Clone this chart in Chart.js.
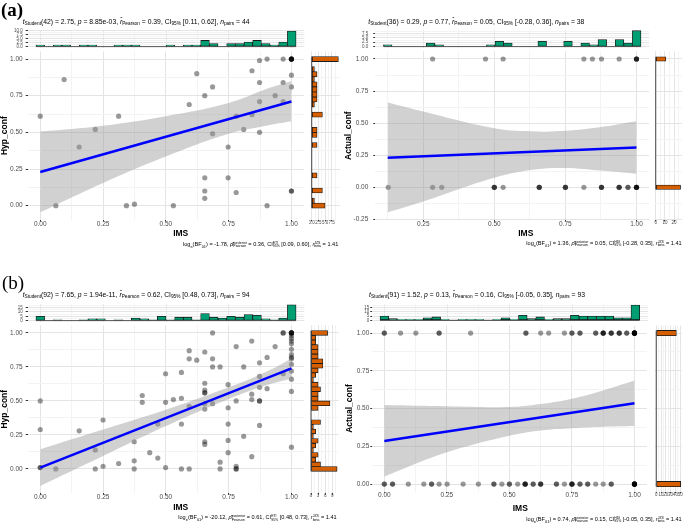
<!DOCTYPE html>
<html>
<head>
<meta charset="utf-8">
<title>IMS vs confidence</title>
<script src="https://cdn.jsdelivr.net/npm/chart.js@4.4.1/dist/chart.umd.min.js"></script>
<style>
    html, body { margin: 0; padding: 0; background: #fff; }
    #figure { position: relative; width: 685px; height: 524px; overflow: hidden;
        font-family: "Liberation Sans", Arial, sans-serif; color: #000; }
    #figure canvas { position: absolute; }
    .txt { position: absolute; white-space: nowrap; line-height: 1; transform: translateY(-50%); z-index: 2; }
    .txt.end { transform: translate(-100%, -50%); }
    .txt.mid { transform: translate(-50%, -50%); }
    .tag { font-family: "Liberation Serif", "Times New Roman", serif; font-size: 19px; }
    .stats { font-size: 6.8px; }
    .stats sub, .bayes sub { font-size: 0.7em; vertical-align: -0.3em; line-height: 0; }
    .bayes { font-size: 5.6px; }
    .stack { display: inline-flex; flex-direction: column; font-size: 0.62em; line-height: 1; vertical-align: middle; }
    .xlab { font-size: 8.5px; font-weight: bold; }
</style>
</head>
<body>
<div id="figure">
    <div class="txt tag" style="left:1px;top:9px;font-weight:bold">(a)</div>
    <div class="txt tag" style="left:2px;top:281.5px">(b)</div>

    <div class="txt stats" style="left:22.7px;top:21.5px"><i>t</i><sub>Student</sub>(42) = 2.75, <i>p</i> = 8.85e-03, <i>r&#770;</i><sub>Pearson</sub> = 0.39, CI<sub>95%</sub> [0.11, 0.62], <i>n</i><sub>pairs</sub> = 44</div>
    <div class="txt stats" style="left:368.3px;top:21.5px"><i>t</i><sub>Student</sub>(36) = 0.29, <i>p</i> = 0.77, <i>r&#770;</i><sub>Pearson</sub> = 0.05, CI<sub>95%</sub> [-0.28, 0.36], <i>n</i><sub>pairs</sub> = 38</div>
    <div class="txt stats" style="left:22.7px;top:295px"><i>t</i><sub>Student</sub>(92) = 7.65, <i>p</i> = 1.94e-11, <i>r&#770;</i><sub>Pearson</sub> = 0.62, CI<sub>95%</sub> [0.48, 0.73], <i>n</i><sub>pairs</sub> = 94</div>
    <div class="txt stats" style="left:369px;top:295px"><i>t</i><sub>Student</sub>(91) = 1.52, <i>p</i> = 0.13, <i>r&#770;</i><sub>Pearson</sub> = 0.16, CI<sub>95%</sub> [-0.05, 0.35], <i>n</i><sub>pairs</sub> = 93</div>

    <div class="txt xlab mid" style="left:180.7px;top:233.3px">IMS</div>
    <div class="txt xlab mid" style="left:525.8px;top:233.3px">IMS</div>
    <div class="txt xlab mid" style="left:180.7px;top:507.3px">IMS</div>
    <div class="txt xlab mid" style="left:520.3px;top:508.3px">IMS</div>

    <div class="txt bayes end" style="left:338.3px;top:244.5px">log<sub>e</sub>(BF<sub>01</sub>) = -1.78, <i>&rho;&#770;</i><span class="stack"><span>posterior</span><span>Pearson</span></span> = 0.36, CI<span class="stack"><span>ETI</span><span>95%</span></span> [0.09, 0.60], <i>r</i><span class="stack"><span>JZS</span><span>beta</span></span> = 1.41</div>
    <div class="txt bayes end" style="left:681.7px;top:244px">log<sub>e</sub>(BF<sub>01</sub>) = 1.36, <i>&rho;&#770;</i><span class="stack"><span>posterior</span><span>Pearson</span></span> = 0.05, CI<span class="stack"><span>HDI</span><span>95%</span></span> [-0.28, 0.35], <i>r</i><span class="stack"><span>JZS</span><span>beta</span></span> = 1.41</div>
    <div class="txt bayes end" style="left:336.7px;top:518.3px">log<sub>e</sub>(BF<sub>01</sub>) = -20.12, <i>&rho;&#770;</i><span class="stack"><span>posterior</span><span>Pearson</span></span> = 0.61, CI<span class="stack"><span>ETI</span><span>95%</span></span> [0.48, 0.73], <i>r</i><span class="stack"><span>JZS</span><span>beta</span></span> = 1.41</div>
    <div class="txt bayes end" style="left:681.7px;top:520px">log<sub>e</sub>(BF<sub>01</sub>) = 0.74, <i>&rho;&#770;</i><span class="stack"><span>posterior</span><span>Pearson</span></span> = 0.15, CI<span class="stack"><span>HDI</span><span>95%</span></span> [-0.05, 0.35], <i>r</i><span class="stack"><span>JZS</span><span>beta</span></span> = 1.41</div>
</div>
<script>
Chart.defaults.font.family = '"Liberation Sans", Arial, sans-serif';

// ---- points ----
const imsA1 = [0.095, 0, 0.062, 0.155, 0.219, 0.312, 0.343, 0.375, 0.53, 0.593, 0.623,
    0.655, 0.655, 0.655, 0.655, 0.686, 0.686, 0.748, 0.748, 0.78, 0.78, 0.81, 0.843, 0.843,
    0.873, 0.873, 0.873, 0.873, 0.903, 0.903, 0.935, 0.967, 0.967, 0.967,
    1, 1, 1, 1, 1, 1, 1, 1, 1, 1];
const hypA1 = [0.86, 0.61, 0, 0.40, 0.52, 0.61, 0, 0.01, 0, 0.69, 0.90,
    0.75, 0.19, 0.10, 0.05, 0.81, 0.49, 0.40, 0.19, 0.09, 0.61, 0.52, 0.92, 0.62,
    0.99, 0.84, 0.71, 0.50, 1.0, 0, 0.75, 1.0, 0.84, 0.71,
    1, 1, 1, 1, 1, 1, 0.89, 0.81, 0.10, 0.10];

// Actual_conf is 0/1, so keep the IMS values of each group
const imsA2Yes = [0.283, 0.469, 0.531, 0.815, 0.845, 0.877, 0.939, 1, 1, 1, 1];
const imsA2No = [0.127, 0.283, 0.315, 0.5, 0.5, 0.5, 0.531, 0.658, 0.658, 0.658,
    0.75, 0.75, 0.75, 0.815, 0.877, 0.877, 0.877, 0.939, 0.939, 0.939, 0.97, 0.97,
    1, 1, 1, 1, 1];

const imsB1 = [0, 0, 0, 0, 0.062, 0.155, 0.219, 0.219, 0.25, 0.25, 0.312, 0.374, 0.374, 0.374,
    0.406, 0.406, 0.436, 0.468, 0.468, 0.499, 0.499, 0.499, 0.53, 0.562, 0.562, 0.562, 0.562,
    0.593, 0.593, 0.593, 0.593, 0.623, 0.655, 0.655, 0.655, 0.655, 0.655, 0.655, 0.655, 0.655, 0.655,
    0.686, 0.686, 0.686, 0.686, 0.716, 0.716, 0.716, 0.748, 0.748, 0.748, 0.748, 0.748,
    0.78, 0.78, 0.78, 0.78, 0.78, 0.81, 0.81, 0.842, 0.842, 0.842, 0.842,
    0.873, 0.873, 0.873, 0.873, 0.873, 0.873, 0.903, 0.903, 0.935, 0.967, 0.967, 0.967,
    1, 1, 1, 1, 1, 1, 1, 1, 1, 1, 1, 1, 1, 1, 1, 1, 1, 1];
const hypB1 = [0.50, 0.29, 0.01, 0.01, 0, 0.28, 0.14, 0, 0.36, 0.02, 0.04, 0.20, 0.06, 0,
    0.54, 0.49, 0.12, 0.08, 0.33, 0.70, 0.49, 0.01, 0.51, 0.71, 0.52, 0.33, 0,
    0.87, 0.81, 0.46, 0, 0.80, 0.86, 0.63, 0.58, 0.56, 0.56, 0.48, 0.44, 0.20, 0.18,
    1.0, 0.81, 0.75, 0.48, 0.75, 0.05, 0, 0.62, 0.45, 0.33, 0.21, 0.12,
    0.90, 0.50, 0.02, 0, 0, 0.75, 0.24, 0.94, 0.55, 0.51, 0.09,
    0.78, 0.68, 0.60, 0.50, 0.50, 0.32, 0.82, 0.59, 0.90, 1.0, 1.0, 0.70,
    1, 1, 1, 1, 1, 0.98, 0.96, 0.94, 0.92, 0.88, 0.84, 0.82, 0.81, 0.77, 0.72, 0.66, 0.57, 0.16];

const imsB2Yes = [0, 0, 0.065, 0.126, 0.219, 0.219, 0.345, 0.566, 0.566, 0.625, 0.657, 0.72,
    0.75, 0.75, 0.782, 0.782, 0.845, 0.845, 0.875, 0.875, 0.875, 0.875, 0.907, 0.907, 0.907,
    0.939, 0.939, 0.939, 0.969, 0.969, 1, 1, 1, 1, 1, 1, 1, 1, 1, 1, 1, 1];
const imsB2No = [0, 0, 0.033, 0.033, 0.096, 0.158, 0.189, 0.189, 0.219, 0.251, 0.315, 0.376,
    0.438, 0.438, 0.47, 0.5, 0.5, 0.533, 0.563, 0.563, 0.563, 0.563, 0.595, 0.595,
    0.625, 0.625, 0.625, 0.688, 0.688, 0.72, 0.75, 0.75, 0.75, 0.75, 0.782, 0.782,
    0.813, 0.813, 0.845, 0.875, 0.907, 0.907, 1, 1, 1, 1, 1, 1, 1, 1, 1];

// ---- fitted lines and their confidence bands ----
const fitA1X = [0, 1], fitA1Y = [0.23, 0.71];
const bandA1X = [0, 0.25, 0.5, 0.75, 0.9, 1];
const bandA1Hi = [0.505, 0.545, 0.61, 0.70, 0.795, 0.85];
const bandA1Lo = [-0.045, 0.155, 0.335, 0.49, 0.545, 0.575];

const fitA2X = [0.125, 1], fitA2Y = [0.23, 0.31];
const bandA2X = [0.125, 0.25, 0.5, 0.65, 0.75, 0.875, 1];
const bandA2Hi = [0.66, 0.59, 0.46, 0.435, 0.44, 0.47, 0.515];
const bandA2Lo = [-0.195, -0.11, 0.075, 0.14, 0.15, 0.13, 0.105];

const fitB1X = [0, 1], fitB1Y = [0.01, 0.74];
const bandB1X = [0, 0.25, 0.5, 0.75, 0.9, 1];
const bandB1Hi = [0.145, 0.29, 0.435, 0.60, 0.715, 0.81];
const bandB1Lo = [-0.125, 0.095, 0.315, 0.515, 0.615, 0.665];

const fitB2X = [0, 1], fitB2Y = [0.285, 0.535];
const bandB2X = [0, 0.25, 0.5, 0.625, 0.75, 0.875, 1];
const bandB2Hi = [0.523, 0.515, 0.51, 0.53, 0.565, 0.62, 0.685];
const bandB2Lo = [0.05, 0.21, 0.32, 0.355, 0.37, 0.38, 0.385];

// ---- marginal histogram counts, 30 bins each ----
const topA1 = [1, 0, 1, 1, 0, 1, 1, 0, 0, 1, 1, 1, 0, 0, 0, 1, 0, 1, 1, 4, 2, 0, 2, 2, 3, 4, 2, 1, 3, 10];
const sideA1 = [5, 1, 0, 4, 0, 0, 2, 0, 0, 0, 0, 0, 2, 0, 2, 2, 0, 0, 4, 0, 1, 2, 2, 2, 2, 1, 2, 1, 0, 10];
const topA2 = [1, 0, 0, 0, 0, 2, 1, 0, 0, 0, 0, 0, 1, 3, 2, 0, 0, 0, 3, 0, 0, 3, 0, 2, 1, 4, 0, 4, 2, 9];
const sideA2 = [27, 0, 0, 0, 0, 0, 0, 0, 0, 0, 0, 0, 0, 0, 0, 0, 0, 0, 0, 0, 0, 0, 0, 0, 0, 0, 0, 0, 0, 11];
const topB1 = [5, 0, 1, 0, 0, 1, 2, 2, 0, 1, 0, 3, 2, 1, 5, 1, 4, 4, 1, 8, 4, 3, 5, 4, 7, 6, 2, 1, 3, 18];
const sideB1 = [11, 4, 2, 3, 1, 2, 3, 1, 2, 1, 4, 0, 0, 3, 8, 3, 3, 4, 3, 1, 2, 3, 5, 5, 3, 3, 3, 2, 2, 7];
const topB2 = [5, 2, 1, 1, 1, 3, 4, 1, 0, 1, 1, 1, 0, 1, 3, 1, 6, 2, 4, 1, 2, 2, 6, 5, 5, 5, 5, 3, 3, 18];
const sideB2 = [51, 0, 0, 0, 0, 0, 0, 0, 0, 0, 0, 0, 0, 0, 0, 0, 0, 0, 0, 0, 0, 0, 0, 0, 0, 0, 0, 0, 0, 42];

// ---- ticks ----
const unitTicks = [0, 0.25, 0.5, 0.75, 1];
const unitLabels = ["0.00", "0.25", "0.50", "0.75", "1.00"];
const unitMinor = [0.125, 0.375, 0.625, 0.875];
const imsA2Ticks = [0.25, 0.5, 0.75, 1];
const imsA2Labels = ["0.25", "0.50", "0.75", "1.00"];
const actA2Ticks = [-0.25, 0, 0.25, 0.5, 0.75, 1];
const actA2Labels = ["-0.25", "0.00", "0.25", "0.50", "0.75", "1.00"];
const actA2Minor = [-0.125, 0.125, 0.375, 0.625, 0.875];
const quarterTicks = [0, 2.5, 5, 7.5];
const quarterLabels = ["0.0", "2.5", "5.0", "7.5"];
const quarterMinor = [1.25, 3.75, 6.25, 8.75];
const fiveTicks = [0, 5, 10, 15];
const fiveLabels = ["0", "5", "10", "15"];
const fiveMinor = [2.5, 7.5, 12.5, 17.5];
const tensA2 = [0, 10, 20], tensA2Labels = ["0", "10", "20"], tensA2Minor = [5, 15, 25];
const threes = [0, 3, 6, 9], threesLabels = ["0", "3", "6", "9"], threesMinor = [1.5, 4.5, 7.5, 10.5];
const tensB2 = [0, 10, 20, 30, 40, 50], tensB2Labels = ["0", "10", "20", "30", "40", "50"];
const tensB2Minor = [5, 15, 25, 35, 45];

// ---- styling ----
const GREEN = "#009E73", ORANGE = "#D55E00", BLUE = "#0000ff";
const POINT = "rgba(0,0,0,0.4)", BAND = "rgba(153,153,153,0.45)", EDGE = "#1a1a1a";
const GRID_MAJOR = "#e4e4e4", GRID_MINOR = "#f3f3f3";
const TICK_TEXT = "#4d4d4d", TICK_MARK = "#333333", NONE = "rgba(0,0,0,0)";

const figure = document.getElementById("figure");

function binCenters(lo, hi, n) {
    const step = (hi - lo) / (n - 1);
    return Array.from({length: n}, (_, i) => lo + i * step);
}

function pairs(xs, ys) {
    return xs.map((x, i) => ({x, y: ys[i]}));
}

// a canvas whose chart area lands on box (page px); pad leaves room for the axes
function mount(box, pad) {
    const left = Math.floor(box.l - pad.l);
    const top = Math.floor(box.t - pad.t);
    const width = Math.ceil(box.r + pad.r) - left;
    const height = Math.ceil(box.b + pad.b) - top;
    const canvas = document.createElement("canvas");
    canvas.width = width;
    canvas.height = height;
    canvas.style.left = `${left}px`;
    canvas.style.top = `${top}px`;
    canvas.style.width = `${width}px`;
    canvas.style.height = `${height}px`;
    figure.appendChild(canvas);
    return {canvas, inset: {l: box.l - left, t: box.t - top, r: left + width - box.r, b: top + height - box.b}};
}

function axis(pos, range, spec) {
    const values = spec.major.concat(spec.minor || []).sort((a, b) => a - b);
    const isMajor = (c) => Boolean(c.tick) && spec.major.includes(c.tick.value);
    const showLabels = Boolean(spec.labels);
    return {
        type: "linear", position: pos, min: range[0], max: range[1], bounds: "data", offset: false,
        afterBuildTicks: (scale) => { scale.ticks = values.map((value) => ({value})); },
        afterFit: (scale) => {
            if (pos === "left") scale.width = spec.fit; else scale.height = spec.fit;
            scale.paddingLeft = scale.paddingRight = scale.paddingTop = scale.paddingBottom = 0;
        },
        ticks: {
            display: showLabels, autoSkip: false, maxRotation: 0, minRotation: 0,
            padding: spec.gap ?? 0, color: TICK_TEXT, font: {size: spec.font || 6.5},
            callback: (value) => {
                const i = spec.major.indexOf(value);
                return i < 0 || !showLabels ? "" : spec.labels[i];
            }
        },
        grid: {
            offset: false, lineWidth: 1,
            color: (c) => (isMajor(c) ? GRID_MAJOR : GRID_MINOR),
            drawTicks: showLabels, tickLength: spec.tick ?? 2,
            tickColor: (c) => (isMajor(c) ? TICK_MARK : NONE)
        },
        border: {display: false},
        title: spec.title
            ? {display: true, text: spec.title, color: "#000", font: {size: 8.5, weight: "bold"},
               padding: {top: spec.titleGap || 0, bottom: 0}}
            : {display: false}
    };
}

function draw(mounted, type, datasets, scales, extra) {
    return new Chart(mounted.canvas, {
        type,
        data: {datasets},
        options: Object.assign({
            responsive: false, animation: false, devicePixelRatio: 1, events: [],
            layout: {padding: {left: 0, top: mounted.inset.t, right: mounted.inset.r, bottom: 0}},
            plugins: {legend: {display: false}, tooltip: {enabled: false}},
            scales
        }, extra || {})
    });
}

function buildPanel(cfg) {
    const xSpec = Object.assign({}, cfg.xTicks);
    const ySpec = Object.assign({}, cfg.yTicks);

    // scatter + fit
    const sc = mount(cfg.scatterBox, {l: cfg.axisWidth, t: 5, r: 3, b: 10});
    draw(sc, "scatter", [
        {data: pairs(cfg.fit[0], cfg.fit[1]), showLine: true, borderColor: BLUE, borderWidth: 2.5,
            pointRadius: 0, order: 0},
        {data: pairs(cfg.band[0], cfg.band[1]), showLine: true, borderColor: NONE, pointRadius: 0,
            tension: 0.4, fill: "+1", backgroundColor: BAND, order: 1},
        {data: pairs(cfg.band[0], cfg.band[2]), showLine: true, borderColor: NONE, pointRadius: 0,
            tension: 0.4, fill: false, order: 2},
        {data: cfg.points, pointRadius: 2.6, pointBorderWidth: 0, pointBackgroundColor: POINT,
            backgroundColor: POINT, order: 3}
    ], {
        x: axis("bottom", cfg.xRange, Object.assign({}, xSpec, {fit: sc.inset.b, tick: 1.5, gap: -1.5})),
        y: axis("left", cfg.yRange, Object.assign({}, ySpec, {fit: sc.inset.l, tick: cfg.yTick, gap: cfg.yGap,
            title: cfg.yTitle, titleGap: cfg.titleGap}))
    });

    // top histogram of IMS
    const top = cfg.top;
    const tHalf = (top.centers[1] - top.centers[0]) / 2;
    const tp = mount(cfg.topBox, {l: cfg.axisWidth, t: 3, r: 3, b: 1});
    draw(tp, "bar", [
        {type: "line", data: [{x: top.centers[0] - tHalf, y: 0}, {x: top.centers[top.centers.length - 1] + tHalf, y: 0}],
            borderColor: EDGE, borderWidth: 0.8, pointRadius: 0, order: 0},
        {data: pairs(top.centers, top.counts), backgroundColor: GREEN, borderColor: EDGE, borderWidth: 0.8,
            borderSkipped: false, barPercentage: 1, categoryPercentage: 1, order: 1}
    ], {
        x: axis("bottom", cfg.xRange, {major: xSpec.major, minor: xSpec.minor, labels: null, fit: tp.inset.b}),
        y: axis("left", top.range, {major: top.major, labels: top.labels, minor: top.minor, font: 4.5,
            fit: tp.inset.l, tick: cfg.yTick, gap: cfg.yGap})
    });

    // side histogram of the confidence score
    const side = cfg.side;
    const sHalf = (side.centers[1] - side.centers[0]) / 2;
    const sd = mount(cfg.sideBox, {l: 1, t: 5, r: 3, b: 10});
    draw(sd, "bar", [
        {type: "line", data: [{x: 0, y: side.centers[0] - sHalf}, {x: 0, y: side.centers[side.centers.length - 1] + sHalf}],
            borderColor: EDGE, borderWidth: 0.8, pointRadius: 0, order: 0},
        {data: side.centers.map((y, i) => ({x: side.counts[i], y})), backgroundColor: ORANGE, borderColor: EDGE,
            borderWidth: 0.8, borderSkipped: false, barPercentage: 1, categoryPercentage: 1, order: 1}
    ], {
        x: axis("bottom", side.range, {major: side.major, labels: side.labels, minor: side.minor, font: 4.5,
            fit: sd.inset.b, tick: 1.5, gap: -1.5}),
        y: axis("left", cfg.yRange, {major: ySpec.major, minor: ySpec.minor, labels: null, fit: sd.inset.l})
    }, {indexAxis: "y"});
}

const unitBins = binCenters(0, 1, 30);
const unitAxis = {major: unitTicks, labels: unitLabels, minor: unitMinor};

buildPanel({
    points: pairs(imsA1, hypA1),
    fit: [fitA1X, fitA1Y], band: [bandA1X, bandA1Hi, bandA1Lo],
    xRange: [-0.05, 1.05], yRange: [-0.097, 1.052],
    xTicks: unitAxis, yTicks: unitAxis,
    yTitle: "Hyp_conf", axisWidth: 27.7, yTick: 2, yGap: 3, titleGap: 0,
    scatterBox: {l: 27.7, t: 51.4, r: 304.3, b: 219.9},
    topBox: {l: 27.7, t: 30.2, r: 304.3, b: 47.5},
    sideBox: {l: 310.4, t: 51.4, r: 339.7, b: 219.9},
    top: {counts: topA1, centers: unitBins, range: [-0.5, 10.5],
        major: quarterTicks.concat([10]), labels: quarterLabels.concat(["10.0"]), minor: quarterMinor},
    side: {counts: sideA1, centers: unitBins, range: [-0.5, 10.5],
        major: quarterTicks, labels: quarterLabels, minor: quarterMinor}
});

buildPanel({
    points: imsA2Yes.map((x) => ({x, y: 1})).concat(imsA2No.map((x) => ({x, y: 0}))),
    fit: [fitA2X, fitA2Y], band: [bandA2X, bandA2Hi, bandA2Lo],
    xRange: [0.081, 1.044], yRange: [-0.255, 1.06],
    xTicks: {major: imsA2Ticks, labels: imsA2Labels, minor: unitMinor},
    yTicks: {major: actA2Ticks, labels: actA2Labels, minor: actA2Minor},
    yTitle: "Actual_conf", axisWidth: 35.2, yTick: 2, yGap: 4.9, titleGap: 3.2,
    scatterBox: {l: 375.2, t: 51.3, r: 649.2, b: 220},
    topBox: {l: 375.2, t: 29.9, r: 649.2, b: 47.5},
    sideBox: {l: 654.5, t: 51.3, r: 681.8, b: 220},
    top: {counts: topA2, centers: binCenters(0.125, 1, 30), range: [-0.45, 9.45],
        major: quarterTicks, labels: quarterLabels, minor: quarterMinor},
    side: {counts: sideA2, centers: unitBins, range: [-1.35, 28.35],
        major: tensA2, labels: tensA2Labels, minor: tensA2Minor}
});

buildPanel({
    points: pairs(imsB1, hypB1),
    fit: [fitB1X, fitB1Y], band: [bandB1X, bandB1Hi, bandB1Lo],
    xRange: [-0.05, 1.05], yRange: [-0.179, 1.057],
    xTicks: unitAxis, yTicks: unitAxis,
    yTitle: "Hyp_conf", axisWidth: 27.7, yTick: 2, yGap: 3, titleGap: 0,
    scatterBox: {l: 27.7, t: 325.2, r: 304.3, b: 493.3},
    topBox: {l: 27.7, t: 304, r: 304.3, b: 321.5},
    sideBox: {l: 309.7, t: 325.2, r: 338.4, b: 493.3},
    top: {counts: topB1, centers: unitBins, range: [-0.9, 18.9],
        major: fiveTicks, labels: fiveLabels, minor: fiveMinor},
    side: {counts: sideB1, centers: unitBins, range: [-0.55, 11.55],
        major: threes, labels: threesLabels, minor: threesMinor}
});

buildPanel({
    points: imsB2Yes.map((x) => ({x, y: 1})).concat(imsB2No.map((x) => ({x, y: 0}))),
    fit: [fitB2X, fitB2Y], band: [bandB2X, bandB2Hi, bandB2Lo],
    xRange: [-0.05, 1.05], yRange: [-0.05, 1.05],
    xTicks: unitAxis, yTicks: unitAxis,
    yTitle: "Actual_conf", axisWidth: 31.8, yTick: 1.5, yGap: 1, titleGap: 4.2,
    scatterBox: {l: 371.8, t: 325.5, r: 647.9, b: 491.6},
    topBox: {l: 371.8, t: 304.2, r: 647.9, b: 321.1},
    sideBox: {l: 655, t: 325.5, r: 681.9, b: 491.6},
    top: {counts: topB2, centers: unitBins, range: [-0.9, 18.9],
        major: fiveTicks, labels: fiveLabels, minor: fiveMinor},
    side: {counts: sideB2, centers: unitBins, range: [-2.55, 53.55],
        major: tensB2, labels: tensB2Labels, minor: tensB2Minor}
});
</script>
</body>
</html>
